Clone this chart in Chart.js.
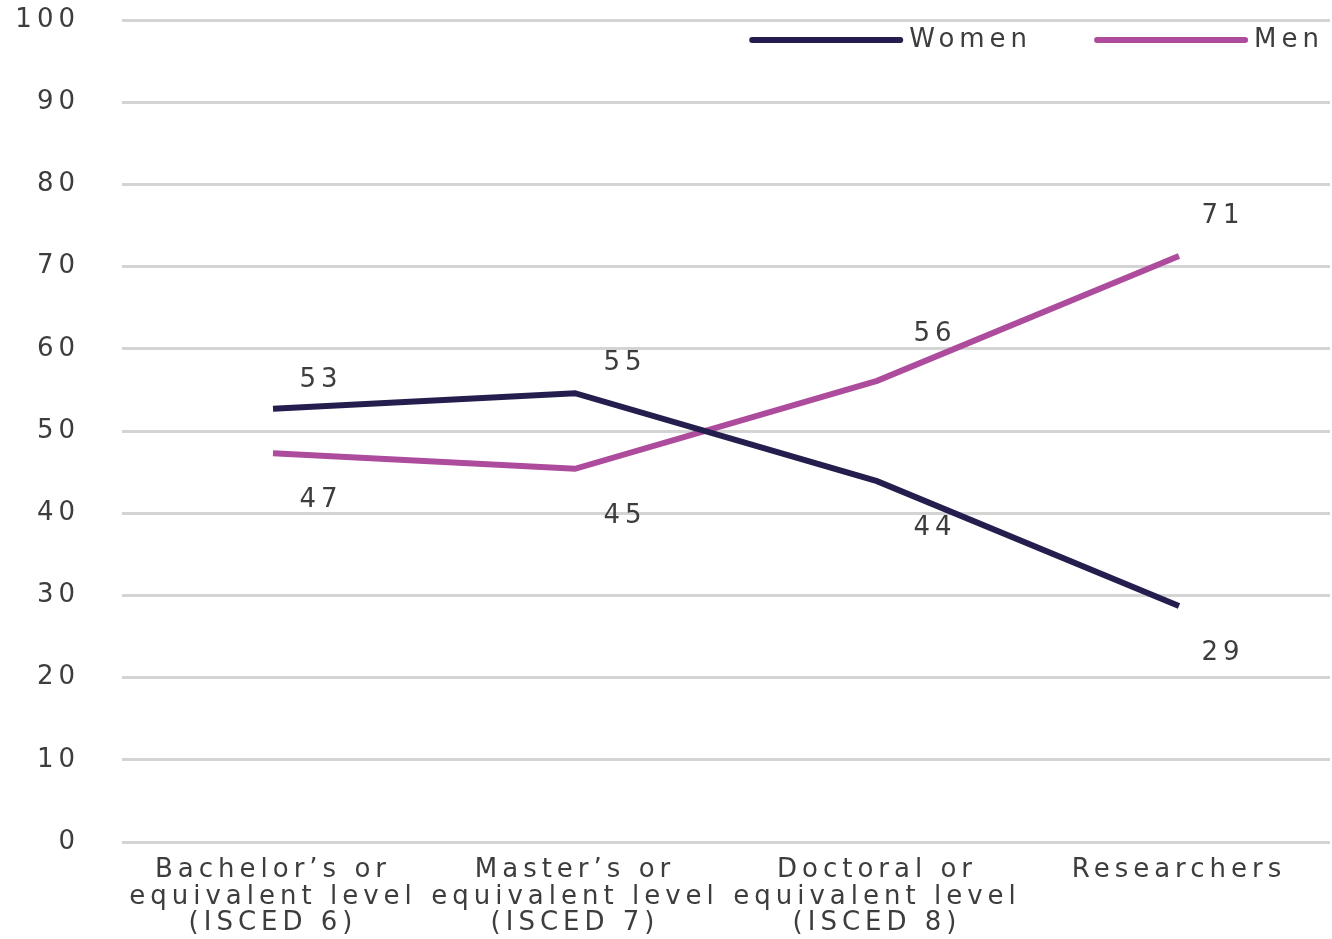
<!DOCTYPE html>
<html>
<head>
<meta charset="utf-8">
<script src="https://cdn.jsdelivr.net/npm/chart.js@4/dist/chart.umd.min.js"></script>
<style>
  html, body { margin: 0; padding: 0; background: #fff; }
  #wrap { width: 1332px; height: 939px; }
</style>
</head>
<body>
<div id="wrap"><canvas id="chart"></canvas></div>
<script>
// categories along the x axis (multi-line labels)
const categories = [
    ['Bachelor\u2019s or', 'equivalent level', '(ISCED 6)'],
    ['Master\u2019s or', 'equivalent level', '(ISCED 7)'],
    ['Doctoral or', 'equivalent level', '(ISCED 8)'],
    'Researchers'
];
// share in percent
const women = [52.7, 54.6, 43.9, 28.7];
const men = [47.3, 45.4, 56.1, 71.3];
const seriesNames = ['Women', 'Men'];

const textColor = '#3d3d3d';
const fontFamily = '"DejaVu Sans", sans-serif';
const fontSize = 26;
const spacing = '5px';

//keep the wide letter spacing on the canvas (resize resets it)
const spacingPlugin = {
    id: 'spacing',
    beforeUpdate(chart){ chart.ctx.letterSpacing = spacing; },
    beforeLayout(chart){ chart.ctx.letterSpacing = spacing; },
    beforeDraw(chart){ chart.ctx.letterSpacing = spacing; }
};

//value labels, above the higher line and below the lower one
const valueLabels = {
    id: 'valueLabels',
    afterDatasetsDraw(chart){
        const ctx = chart.ctx;
        const sets = chart.data.datasets;
        const shiftX = [48, 50, 58, 44];
        const shiftUp = [-29, -30, -47, -40];
        ctx.save();
        ctx.font = fontSize + 'px ' + fontFamily;
        ctx.fillStyle = textColor;
        ctx.textAlign = 'center';
        ctx.textBaseline = 'middle';
        sets.forEach(function(ds, i){
            const other = sets[1 - i];
            chart.getDatasetMeta(i).data.forEach(function(pt, j){
                const above = ds.data[j] > other.data[j];
                const dy = above ? shiftUp[j] : 47;
                ctx.fillText(Math.round(ds.data[j]), pt.x + shiftX[j], pt.y + dy);
            });
        });
        ctx.restore();
    }
};

//legend drawn inside the plot, top right
const lineLegend = {
    id: 'lineLegend',
    afterDraw(chart){
        const ctx = chart.ctx;
        const area = chart.chartArea;
        const y = 40;
        ctx.save();
        ctx.font = fontSize + 'px ' + fontFamily;
        ctx.textBaseline = 'middle';
        ctx.textAlign = 'left';
        let x = area.right - 6;
        const sets = chart.data.datasets.slice().reverse();
        sets.forEach(function(ds){
            const w = ctx.measureText(ds.label).width;
            x -= w;
            ctx.fillStyle = textColor;
            ctx.fillText(ds.label, x, y);
            ctx.strokeStyle = ds.borderColor;
            ctx.lineWidth = 6;
            ctx.lineCap = 'round';
            ctx.beginPath();
            ctx.moveTo(x - 157, y);
            ctx.lineTo(x - 9, y);
            ctx.stroke();
            x -= 222;
        });
        ctx.restore();
    }
};

const ctx = document.getElementById('chart');
let myChart = new Chart(ctx, {
    type: 'line',
    data: {
        labels: categories,
        datasets: [{
            label: seriesNames[0],
            data: women,
            borderColor: '#241e4e',
            backgroundColor: '#241e4e',
            borderWidth: 6,
            pointRadius: 0,
            fill: false,
            tension: 0
        }, {
            label: seriesNames[1],
            data: men,
            borderColor: '#ad4b9c',
            backgroundColor: '#ad4b9c',
            borderWidth: 6,
            pointRadius: 0,
            fill: false,
            tension: 0
        }]
    },
    options: {
        responsive: true,
        maintainAspectRatio: false,
        animation: false,
        layout: { padding: { top: 20, right: 2, left: 0, bottom: 2 } },
        plugins: {
            legend: { display: false },
            tooltip: { enabled: false }
        },
        scales: {
            x: {
                offset: true,
                grid: { display: false, drawTicks: false },
                border: { display: false },
                afterFit(scale){
                    scale.paddingLeft = 0;
                    scale.paddingRight = 0;
                    scale.height = 95;
                },
                ticks: {
                    color: textColor,
                    font: { family: fontFamily, size: fontSize, lineHeight: 1.02 },
                    maxRotation: 0,
                    autoSkip: false,
                    padding: 15
                }
            },
            y: {
                min: 0,
                max: 100,
                grid: { color: '#d4d4d4', lineWidth: 3, drawTicks: false },
                border: { display: false },
                afterFit(scale){
                    scale.paddingTop = 0;
                    scale.paddingBottom = 0;
                    scale.width = 122;
                },
                ticks: {
                    stepSize: 10,
                    color: textColor,
                    font: { family: fontFamily, size: fontSize },
                    padding: 42
                }
            }
        }
    },
    plugins: [spacingPlugin, valueLabels, lineLegend]
});
</script>
</body>
</html>
